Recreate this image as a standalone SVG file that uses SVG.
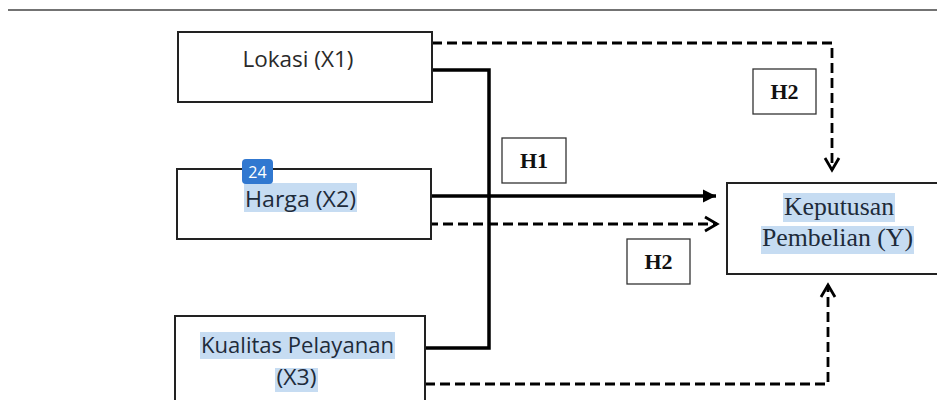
<svg xmlns="http://www.w3.org/2000/svg" width="937" height="400" viewBox="0 0 937 400">
<defs>
<style>
.box{fill:#fff;stroke:#222;stroke-width:2}
.hbox{fill:#fff;stroke:#333;stroke-width:1.3}
.sans{font-family:"Open Sans","Liberation Sans",sans-serif;font-size:21px;fill:#2a2a2a;text-anchor:middle}
.sel{fill:#1e2b3a}
.serif{font-family:"Liberation Serif","Times New Roman",serif;font-size:25px;fill:#1e2b3a;text-anchor:middle}
.h{font-family:"Liberation Serif","Times New Roman",serif;font-size:22px;font-weight:bold;fill:#111;text-anchor:middle}
.hl{fill:#c6dcf2}
.solid{fill:none;stroke:#000;stroke-width:3.5}
.dash{fill:none;stroke:#000;stroke-width:2.8;stroke-dasharray:10 5}
</style>
<marker id="tri" markerUnits="userSpaceOnUse" markerWidth="16" markerHeight="16" refX="14" refY="8" orient="auto">
<path d="M1,1.5 L14,8 L1,14.5 Z" fill="#000"/>
</marker>
<marker id="chev" markerUnits="userSpaceOnUse" markerWidth="18" markerHeight="18" refX="15" refY="9" orient="auto">
<path d="M3,2 L15,9 L3,16" fill="none" stroke="#000" stroke-width="2.8"/>
</marker>
</defs>
<line x1="8" y1="10" x2="937" y2="10" stroke="#444" stroke-width="1.6"/>
<g id="connectors">
<path class="solid" d="M432,70 H489 V348 H425"/>
<path class="solid" d="M431,196 H716" marker-end="url(#tri)"/>
<path class="dash" d="M432,43 H832 V170" marker-end="url(#chev)"/>
<path class="dash" d="M428,224 H717" marker-end="url(#chev)"/>
<path class="dash" d="M425,384 H828 V285" marker-end="url(#chev)"/>
</g>
<g id="x1">
<rect class="box" x="178" y="32" width="254" height="70"/>
<text class="sans" x="298" y="67" textLength="111" lengthAdjust="spacingAndGlyphs">Lokasi (X1)</text>
</g>
<g id="x2">
<rect class="box" x="177" y="169" width="254" height="70"/>
<rect class="hl" x="244" y="183" width="113" height="29"/>
<text class="sans sel" x="300.5" y="207" textLength="111" lengthAdjust="spacingAndGlyphs">Harga (X2)</text>
<rect x="242" y="159" width="31" height="25" rx="4" fill="#3178d0"/>
<text x="257.5" y="178" font-family="Open Sans, Liberation Sans, sans-serif" font-size="16" fill="#fff" text-anchor="middle">24</text>
</g>
<g id="x3">
<rect class="box" x="175" y="316" width="250" height="90"/>
<rect class="hl" x="200" y="332" width="195" height="27"/>
<rect class="hl" x="275" y="368" width="43" height="24"/>
<text class="sans sel" x="297.5" y="353" textLength="193" lengthAdjust="spacingAndGlyphs">Kualitas Pelayanan</text>
<text class="sans sel" x="296.5" y="385" textLength="40" lengthAdjust="spacingAndGlyphs">(X3)</text>
</g>
<g id="y">
<rect class="box" x="727" y="183" width="220" height="91"/>
<rect class="hl" x="783" y="193" width="112" height="29"/>
<rect class="hl" x="761" y="226" width="153" height="28"/>
<text class="serif" x="839" y="215" textLength="110" lengthAdjust="spacingAndGlyphs">Keputusan</text>
<text class="serif" x="837.5" y="246" textLength="151" lengthAdjust="spacingAndGlyphs">Pembelian (Y)</text>
</g>
<g id="h1">
<rect class="hbox" x="502" y="138" width="64" height="45"/>
<text class="h" x="534" y="168">H1</text>
</g>
<g id="h2a">
<rect class="hbox" x="627" y="239" width="63" height="45"/>
<text class="h" x="658.5" y="269">H2</text>
</g>
<g id="h2b">
<rect class="hbox" x="753" y="69" width="63" height="45"/>
<text class="h" x="784.5" y="99">H2</text>
</g>
</svg>
